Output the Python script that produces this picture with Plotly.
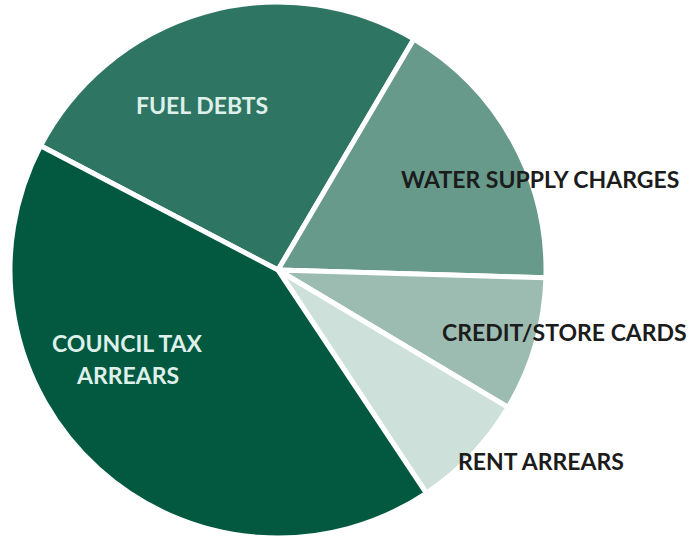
import plotly.graph_objects as go

categories = ["FUEL DEBTS", "WATER SUPPLY CHARGES", "CREDIT/STORE CARDS", "RENT ARREARS", "COUNCIL TAX ARREARS"]
values = [25.8, 17.0, 8.1, 7.1, 42.0]
colors = ["#2e7663", "#679a8b", "#9cbcb2", "#cde0da", "#02593f"]

W, H = 691, 538
cx, r = 278, 268

fig = go.Figure(go.Pie(
    labels=categories,
    values=values,
    sort=False,
    direction="clockwise",
    rotation=297.6,
    marker=dict(colors=colors, line=dict(color="white", width=5)),
    textinfo="none",
    hoverinfo="label+percent",
    showlegend=False,
    domain=dict(x=[(cx - r) / W, (cx + r) / W], y=[0, (2 * r) / H]),
))

label_pos = [
    ("FUEL DEBTS", 202, 105, "#dff0ea"),
    ("WATER SUPPLY CHARGES", 540, 179, "#1c1c1c"),
    ("CREDIT/STORE CARDS", 564, 332, "#1c1c1c"),
    ("RENT ARREARS", 541, 461, "#1c1c1c"),
    ("COUNCIL TAX", 127, 343, "#dff0ea"),
    ("ARREARS", 127, 375, "#dff0ea"),
]
for text, px, py, col in label_pos:
    fig.add_annotation(
        x=px / W, y=1 - py / H, xref="paper", yref="paper",
        text="<b>" + text + "</b>", showarrow=False,
        font=dict(family="Lato, Open Sans, sans-serif", size=23, color=col),
        xanchor="center", yanchor="middle", align="center",
    )

fig.update_layout(
    width=W, height=H,
    margin=dict(l=0, r=0, t=0, b=0),
    paper_bgcolor="white",
    plot_bgcolor="white",
)
fig.write_html("out.html")
